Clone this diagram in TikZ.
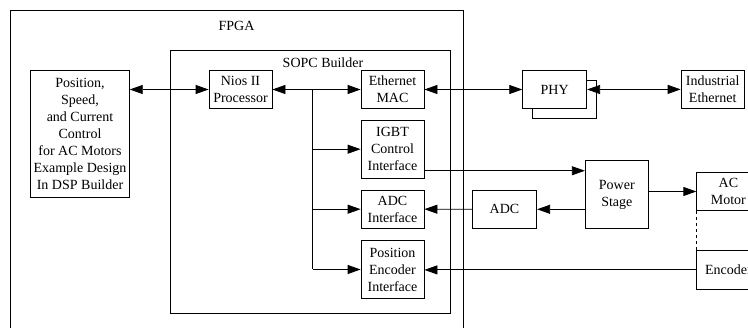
\documentclass[tikz,border=0pt]{standalone}
\usepackage{fontspec}
\setmainfont{Liberation Serif}
\usepackage{tikz}
\usetikzlibrary{arrows.meta,positioning,calc}
\tikzset{
  block/.style={draw, line width=0.8pt, fill=white, align=center, inner sep=2pt, font=\fontsize{14}{17}\selectfont},
  boxtitle/.style={inner sep=1pt, font=\fontsize{14}{17}\selectfont},
  frame/.style={draw, line width=0.8pt},
  oneway/.style={draw, line width=0.8pt, -{Triangle[length=13pt,width=9pt]}},
  twoway/.style={draw, line width=0.8pt, {Triangle[length=13pt,width=9pt]}-{Triangle[length=13pt,width=9pt]}}
}

\begin{document}
\begin{tikzpicture}[x=1pt,y=-1pt]
\useasboundingbox (0,0) rectangle (748,328);
\clip (0,0) rectangle (748,328);
\path[frame] (10,10.7) rectangle (463,340);
\path[frame] (170,50.7) rectangle (450.7,313.7);
\node[boxtitle] (fpgatitle) at (236.5,26) {FPGA};
\node[boxtitle] (sopctitle) at (323,63) {SOPC Builder};

\node[block, minimum width=98.6pt, minimum height=127pt] (ctrl) at (80,134.2) {Position,\\Speed,\\and Current\\Control\\for AC Motors\\Example Design\\In DSP Builder};
\node[block, minimum width=63pt, minimum height=37.6pt] (nios) at (240.5,89.5) {Nios II\\Processor};
\node[block, minimum width=63pt, minimum height=37.6pt] (emac) at (392.5,89.5) {Ethernet\\MAC};
\node[block, minimum width=63pt, minimum height=58.3pt] (igbt) at (392.5,149.2) {IGBT\\Control\\Interface};
\node[block, minimum width=63pt, minimum height=38.3pt] (adci) at (392.5,209.2) {ADC\\Interface};
\node[block, minimum width=63pt, minimum height=57.6pt] (enci) at (392.5,269.5) {Position\\Encoder\\Interface};

\node[block, minimum width=64pt, minimum height=38.4pt] (phyback) at (564.7,99.5) {};
\node[block, minimum width=64pt, minimum height=38.4pt] (phy) at (554.7,89.5) {PHY};
\node[block, minimum width=63.3pt, minimum height=38.7pt] (ieth) at (712.7,89.4) {Industrial\\Ethernet};
\node[block, minimum width=64.4pt, minimum height=38.7pt] (adc) at (504.5,209.3) {ADC};
\node[block, minimum width=63pt, minimum height=68pt] (pwr) at (616.8,194.7) {Power\\Stage};
\node[block, minimum width=63.3pt, minimum height=38.4pt] (acm) at (728.4,191.5) {AC\\Motor};
\node[block, minimum width=63.3pt, minimum height=38.3pt] (enc) at (728.4,269.9) {Encoder};

\coordinate (bus) at (312.7,89.5);
\coordinate (igbtout) at ($(igbt.south east)+(0,-8)$);

\draw[twoway] (ctrl.east |- nios) -- (nios.west);
\draw[twoway] (nios.east) -- (emac.west);
\draw[frame] (bus) -- (bus |- enci);
\draw[oneway] (bus |- igbt) -- (igbt.west);
\draw[oneway] (bus |- adci) -- (adci.west);
\draw[oneway] (bus |- enci) -- (enci.west);
\draw[twoway] (emac.east) -- (phy.west);
\draw[twoway] (phy.east) -- (ieth.west);
\draw[oneway] (igbtout) -- (igbtout -| pwr.west);
\draw[oneway] (adc.east -| pwr.west) -- (adc.east);
\draw[oneway] (adc.west) -- (adci.east);
\draw[oneway] (pwr.east |- acm) -- (acm.west);
\draw[oneway] (enc.west) -- (enc.west -| enci.east);
\draw[line width=0.8pt, dashed] (acm.south west) -- (enc.north west);
\end{tikzpicture}
\end{document}
